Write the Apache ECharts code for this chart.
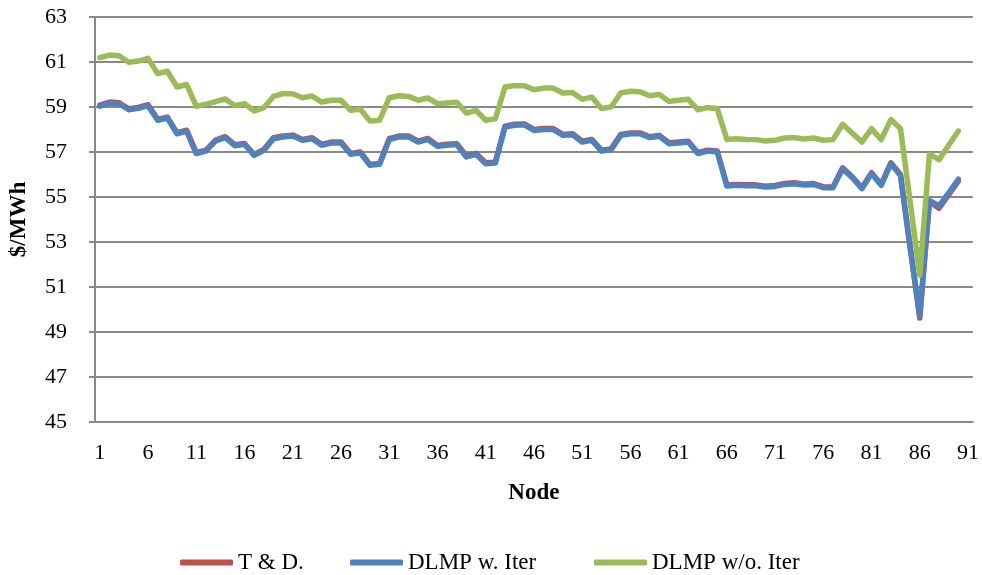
<!DOCTYPE html>
<html>
<head>
<meta charset="utf-8">
<script src="https://cdn.jsdelivr.net/npm/echarts@6/dist/echarts.min.js"></script>
<style>
  html, body { margin: 0; padding: 0; background: #fff; }
  #chart { width: 982px; height: 575px; }
</style>
</head>
<body>
<div id="chart"></div>
<script>
// Node indices shown on the horizontal axis (1..91)
const nodes = Array.from({ length: 91 }, (_, i) => String(i + 1));

// Price at each node, $/MWh
const tdPrice = [
  59.08, 59.22, 59.19, 58.92, 58.98, 59.10, 58.45, 58.55, 57.85, 57.97,
  56.97, 57.08, 57.53, 57.68, 57.32, 57.38, 56.89, 57.11, 57.63, 57.71,
  57.75, 57.56, 57.63, 57.34, 57.44, 57.44, 56.94, 57.00, 56.45, 56.49,
  57.59, 57.71, 57.71, 57.48, 57.60, 57.29, 57.34, 57.37, 56.82, 56.94,
  56.52, 56.55, 58.15, 58.23, 58.25, 58.00, 58.04, 58.04, 57.78, 57.81,
  57.48, 57.56, 57.08, 57.14, 57.78, 57.85, 57.85, 57.68, 57.74, 57.41,
  57.44, 57.48, 56.97, 57.08, 57.05, 55.53, 55.56, 55.54, 55.54, 55.48,
  55.51, 55.60, 55.63, 55.57, 55.60, 55.45, 55.45, 56.30, 55.90, 55.41,
  56.08, 55.56, 56.52, 56.00, 52.75, 49.62, 54.80, 54.50, 55.10, 55.70
];

const dlmpIter = [
  59.04, 59.18, 59.15, 58.88, 58.94, 59.06, 58.41, 58.51, 57.81, 57.93,
  56.93, 57.04, 57.49, 57.64, 57.28, 57.34, 56.85, 57.07, 57.59, 57.67,
  57.71, 57.52, 57.59, 57.30, 57.40, 57.40, 56.90, 56.96, 56.41, 56.45,
  57.55, 57.67, 57.67, 57.44, 57.56, 57.25, 57.30, 57.33, 56.78, 56.90,
  56.48, 56.51, 58.11, 58.19, 58.21, 57.96, 58.00, 58.00, 57.74, 57.77,
  57.44, 57.52, 57.04, 57.10, 57.74, 57.81, 57.81, 57.64, 57.70, 57.37,
  57.40, 57.44, 56.93, 57.04, 57.01, 55.49, 55.52, 55.50, 55.50, 55.44,
  55.47, 55.56, 55.59, 55.53, 55.56, 55.41, 55.41, 56.26, 55.86, 55.37,
  56.04, 55.52, 56.48, 55.96, 52.80, 49.72, 54.85, 54.60, 55.18, 55.79
];

const dlmpNoIter = [
  61.19, 61.31, 61.28, 60.99, 61.04, 61.16, 60.48, 60.59, 59.89, 60.00,
  59.03, 59.12, 59.24, 59.36, 59.06, 59.15, 58.82, 58.97, 59.47, 59.59,
  59.59, 59.41, 59.49, 59.22, 59.30, 59.30, 58.85, 58.90, 58.38, 58.41,
  59.41, 59.50, 59.47, 59.30, 59.40, 59.15, 59.18, 59.21, 58.73, 58.85,
  58.41, 58.48, 59.89, 59.95, 59.95, 59.77, 59.84, 59.84, 59.62, 59.64,
  59.34, 59.44, 58.93, 59.00, 59.62, 59.70, 59.68, 59.50, 59.56, 59.25,
  59.30, 59.34, 58.88, 58.97, 58.93, 57.56, 57.59, 57.56, 57.55, 57.49,
  57.52, 57.62, 57.64, 57.58, 57.62, 57.52, 57.55, 58.23, 57.84, 57.44,
  58.04, 57.55, 58.44, 58.04, 54.80, 51.52, 56.90, 56.66, 57.30, 57.93
];

const seriesNames = ['T & D.', 'DLMP w. Iter', 'DLMP w/o. Iter'];
const seriesColors = ['#C0504D', '#4F81BD', '#9BBB59'];

const FONT = "'Liberation Serif', 'Times New Roman', serif";
const GRID_GRAY = '#898989';

function lineSeries(name, data, color) {
  return {
    name: name,
    type: 'line',
    data: data,
    showSymbol: false,
    symbol: 'none',
    lineStyle: { color: color, width: 5.5, join: 'round', cap: 'round' },
    itemStyle: { color: color },
    emphasis: { disabled: true },
    animation: false
  };
}

// One legend block per series so each key sits at its own spot along the bottom
const legendLefts = [175, 345, 589];
const legends = seriesNames.map((name, i) => ({
  data: [name],
  left: legendLefts[i],
  top: 546,
  itemWidth: 53,
  itemHeight: 6,
  itemGap: 6,
  icon: 'roundRect',
  selectedMode: false,
  textStyle: { fontFamily: FONT, fontSize: 23, color: '#000', padding: [0, 0, 0, 0] }
}));

const chart = echarts.init(document.getElementById('chart'), null, { renderer: 'canvas' });
chart.setOption({
  backgroundColor: '#ffffff',
  animation: false,
  textStyle: { fontFamily: FONT },
  grid: { left: 94, right: 9, top: 17, bottom: 153, containLabel: false },
  legend: legends,
  xAxis: {
    type: 'category',
    data: nodes,
    boundaryGap: true,
    name: 'Node',
    nameLocation: 'middle',
    nameGap: 60,
    nameTextStyle: { fontFamily: FONT, fontSize: 23, fontWeight: 'bold', color: '#000' },
    axisLine: { show: true, lineStyle: { color: GRID_GRAY, width: 2 } },
    axisTick: { show: false },
    axisLabel: { interval: 4, margin: 20, fontFamily: FONT, fontSize: 22, color: '#000' },
    splitLine: { show: false }
  },
  yAxis: {
    type: 'value',
    min: 45,
    max: 63,
    interval: 2,
    name: '$/MWh',
    nameLocation: 'middle',
    nameGap: 64,
    nameRotate: 90,
    nameTextStyle: { fontFamily: FONT, fontSize: 23, fontWeight: 'bold', color: '#000' },
    axisLine: { show: true, lineStyle: { color: GRID_GRAY, width: 2 } },
    axisTick: { show: true, length: 6, lineStyle: { color: GRID_GRAY, width: 2 } },
    axisLabel: { margin: 28, fontFamily: FONT, fontSize: 22, color: '#000' },
    splitLine: { show: true, lineStyle: { color: GRID_GRAY, width: 2 } }
  },
  series: seriesNames.map((name, i) =>
    lineSeries(name, [tdPrice, dlmpIter, dlmpNoIter][i], seriesColors[i]))
});
</script>
</body>
</html>
